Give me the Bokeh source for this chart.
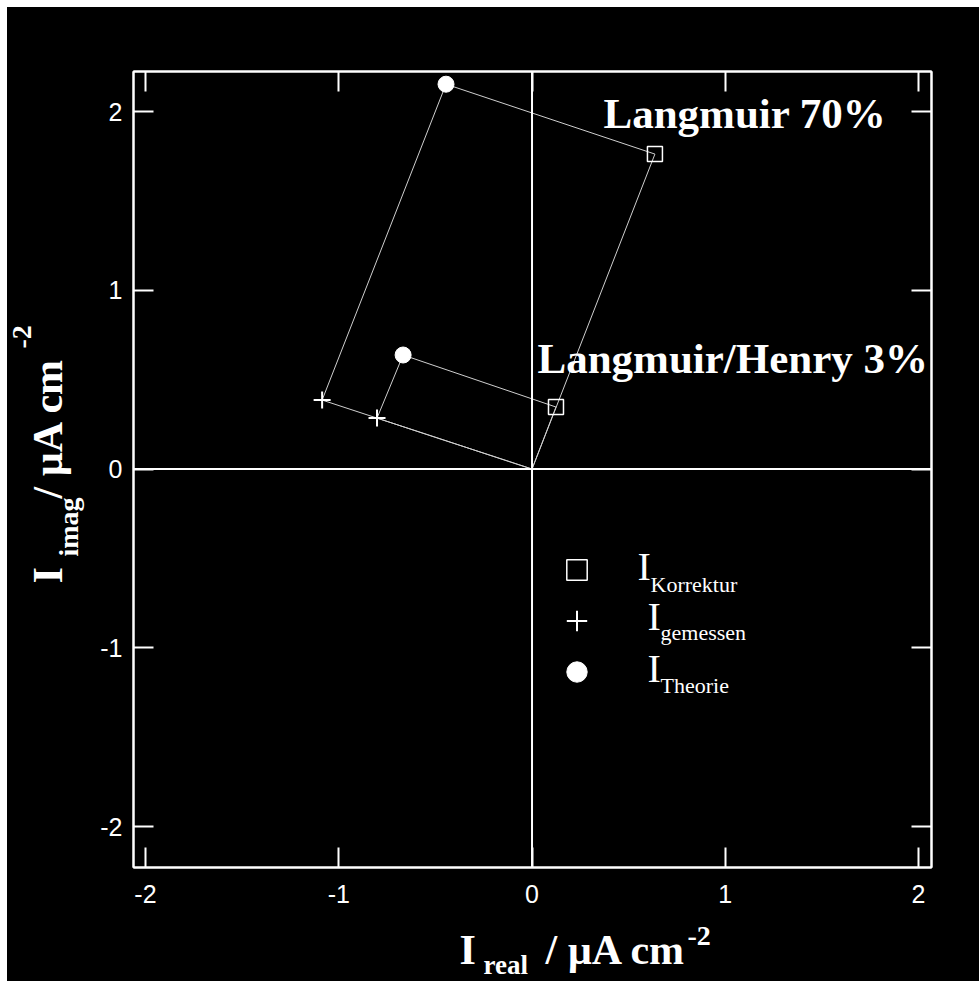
import math
from bokeh.plotting import figure
from bokeh.layouts import row, column
from bokeh.models import (Range1d, Span, Label, LinearAxis, FixedTicker, Legend, LegendItem,
                          ColumnDataSource, Spacer)
from bokeh.embed import file_html
from bokeh.resources import INLINE

# ---------------- data (µA cm^-2) ----------------
series_names = ["Langmuir 70%", "Langmuir/Henry 3%"]
korrektur_real = [0.636, 0.124]
korrektur_imag = [1.762, 0.347]
gemessen_real = [-1.086, -0.802]
gemessen_imag = [0.386, 0.285]
theorie_real = [-0.445, -0.667]
theorie_imag = [2.153, 0.638]
ticks = [-2, -1, 0, 1, 2]
tick_labels = ["-2", "-1", "0", "1", "2"]

# ---------------- layout geometry (page pixels) ----------------
X0, X1 = -2.062, 2.067
Y0, Y1 = -2.229, 2.224
OX, OY = 7, 7                       # white strip at left/top
YW = 85                             # width of y-title panel
FL, FT, FW, FH = 133, 71, 798, 796  # plot frame in page pixels
MX = OX + YW                        # main figure left edge
MW = 979 - MX
MB = 50                             # bottom border of main figure
MH = (FT - OY) + FH + MB
XH = 981 - OY - MH                  # height of x-title panel
BASE = 0.36                         # baseline correction (em)

SERIF = "Liberation Serif"
TICK_FONT = "Liberation Sans"

p = figure(width=MW, height=MH, x_range=Range1d(X0, X1), y_range=Range1d(Y0, Y1),
           output_backend="svg", toolbar_location=None, frame_align=False,
           min_border_left=FL - MX, min_border_top=FT - OY,
           min_border_right=MW - (FL - MX) - FW, min_border_bottom=MB,
           background_fill_color="black", border_fill_color="black",
           outline_line_color="white", outline_line_width=2)
p.grid.visible = False

def dx(px):
    return X0 + (px - FL) / FW * (X1 - X0)

def dy(py):
    return Y1 - (py - FT) / FH * (Y1 - Y0)

def style_axis(ax, labels=True):
    ax.ticker = FixedTicker(ticks=ticks)
    ax.major_label_overrides = {t: l for t, l in zip(ticks, tick_labels)}
    ax.axis_line_color = "white"
    ax.axis_line_width = 2
    ax.major_tick_line_color = "white"
    ax.major_tick_line_width = 2
    ax.major_tick_in = 20
    ax.major_tick_out = 0
    ax.minor_tick_line_color = None
    if labels:
        ax.major_label_text_color = "white"
        ax.major_label_text_font = TICK_FONT
        ax.major_label_text_font_size = "25px"
    else:
        ax.major_label_text_font_size = "1px"
        ax.major_label_text_color = None
        ax.major_label_standoff = 0

style_axis(p.xaxis[0])
p.xaxis[0].major_label_standoff = 17
style_axis(p.yaxis[0])
p.yaxis[0].major_label_standoff = 11
top_ax = LinearAxis()
style_axis(top_ax, labels=False)
p.add_layout(top_ax, "above")
right_ax = LinearAxis()
style_axis(right_ax, labels=False)
p.add_layout(right_ax, "right")

# zero lines
p.add_layout(Span(location=0, dimension="height", line_color="white", line_width=2))
p.add_layout(Span(location=0, dimension="width", line_color="white", line_width=2))

# parallelogram construction lines
xs, ys = [], []
for i in range(len(series_names)):
    xs.append([0, gemessen_real[i], theorie_real[i], korrektur_real[i], 0])
    ys.append([0, gemessen_imag[i], theorie_imag[i], korrektur_imag[i], 0])
p.multi_line(xs, ys, line_color="#cfcfcf", line_width=1)

src_k = ColumnDataSource(dict(x=korrektur_real, y=korrektur_imag))
src_g = ColumnDataSource(dict(x=gemessen_real, y=gemessen_imag))
src_t = ColumnDataSource(dict(x=theorie_real, y=theorie_imag))
r_k = p.scatter("x", "y", source=src_k, marker="square", size=15, fill_color=None,
                line_color="white", line_width=1.5)
r_g = p.scatter("x", "y", source=src_g, marker="cross", size=17,
                line_color="white", line_width=2)
r_t = p.scatter("x", "y", source=src_t, marker="circle", size=16, fill_color="white",
                line_color="white")

legend = Legend(items=[LegendItem(label=" ", renderers=[r_k]),
                       LegendItem(label=" ", renderers=[r_g]),
                       LegendItem(label=" ", renderers=[r_t])],
                location=(576 - 25.5 - FL, (FT + FH) - (671 + 25.5)),
                glyph_width=51, glyph_height=51, spacing=0, padding=0, margin=0,
                label_standoff=0, label_width=0, label_height=10,
                label_text_font_size="1px", border_line_color=None,
                background_fill_alpha=0)
p.add_layout(legend)

def lab(fig, x, y, text, size, bold=True, angle=0.0):
    fig.add_layout(Label(x=x, y=y, text=text, text_font=SERIF,
                         text_font_size=f"{size}px",
                         text_font_style="bold" if bold else "normal",
                         text_color="white", text_align="left",
                         text_baseline="alphabetic", angle=angle))

def mlab(px, py, text, size, bold=True):
    lab(p, dx(px), dy(py - BASE * size), text, size, bold)

# series annotations
mlab(603, 128, series_names[0], 43)
mlab(537, 373, series_names[1], 43)

# legend texts
mlab(637, 580, "I", 40, bold=False)
mlab(650, 592, "Korrektur", 22, bold=False)
mlab(647, 630, "I", 40, bold=False)
mlab(660, 640, "gemessen", 22, bold=False)
mlab(647, 682, "I", 40, bold=False)
mlab(660, 693, "Theorie", 22, bold=False)

def blank_fig(w, h):
    f = figure(width=w, height=h, x_range=Range1d(0, w), y_range=Range1d(0, h),
               output_backend="svg", toolbar_location=None, frame_align=False,
               x_axis_type=None, y_axis_type=None, min_border=0,
               background_fill_color="black", border_fill_color="black",
               outline_line_color=None)
    f.grid.visible = False
    return f

# y-axis title panel (page x OX..MX, y OY..OY+MH), text rotated 90°
yfig = blank_fig(YW, MH)
def ylab(px, py, text, size):
    lab(yfig, (px - BASE * size) - OX, (OY + MH) - py, text, size, angle=math.pi / 2)
ylab(63, 583, "I", 42)
ylab(78, 556, "imag", 28)
ylab(63, 498, "/ µA cm", 42)
ylab(32, 348, "-2", 28)

# x-axis title panel (page x OX..979, y OY+MH..981)
xfig = blank_fig(979 - OX, XH)
def xlab(px, py, text, size):
    lab(xfig, px - OX, 981 - (py - BASE * size), text, size)
xlab(459, 965, "I", 42)
xlab(483, 974, "real", 27)
xlab(545, 965, "/ µA cm", 42)
xlab(687, 946, "-2", 28)

inner = column(row(yfig, p, styles={"background-color": "black"}), xfig,
               styles={"background-color": "black"})
layout = column(Spacer(width=979, height=OY),
                row(Spacer(width=OX, height=981 - OY), inner))

open("out.html", "w").write(file_html(layout, INLINE))
